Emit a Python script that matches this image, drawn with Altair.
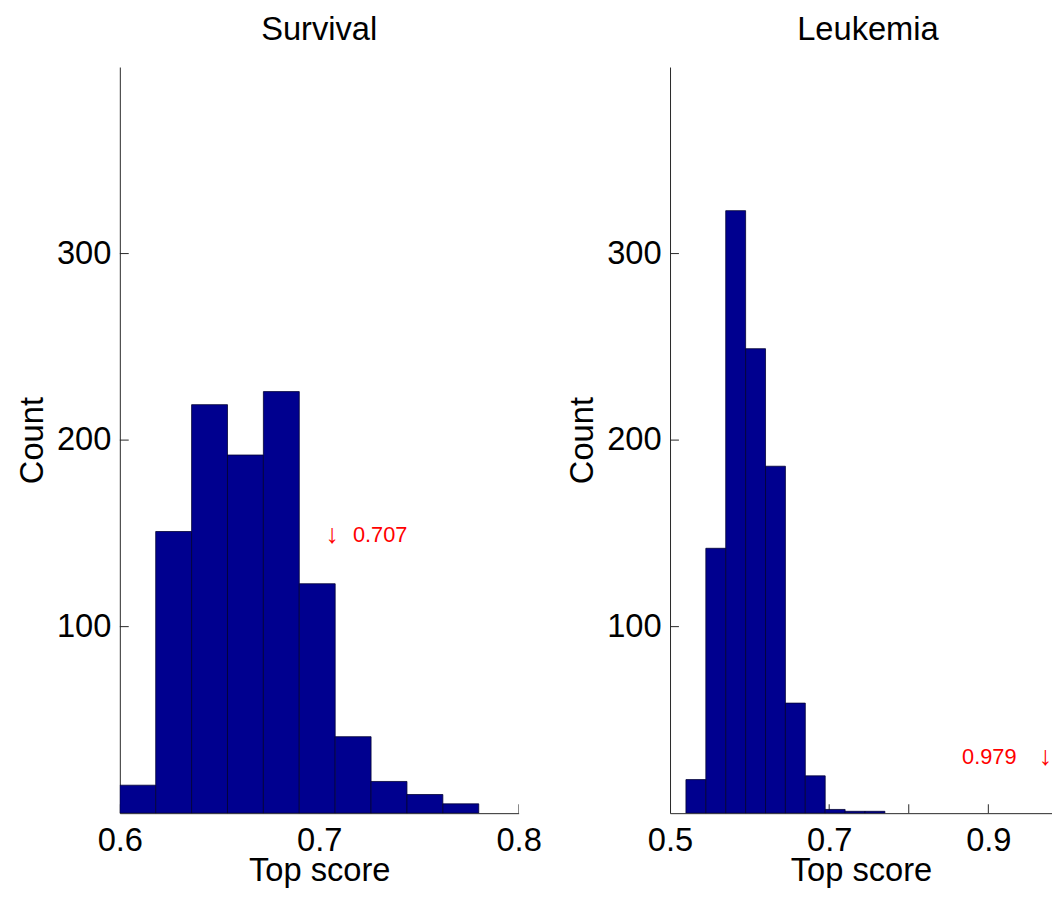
import altair as alt
import pandas as pd

FONT = "Liberation Sans"

# ---- data ----
surv_bin_start = [0.600, 0.618, 0.636, 0.654, 0.672, 0.690, 0.708, 0.726, 0.744, 0.762]
surv_bin_end = [0.618, 0.636, 0.654, 0.672, 0.690, 0.708, 0.726, 0.744, 0.762, 0.780]
surv_counts = [15, 151, 219, 192, 226, 123, 41, 17, 10, 5]

leuk_bin_start = [0.520, 0.545, 0.570, 0.595, 0.620, 0.645, 0.670, 0.695, 0.720, 0.745]
leuk_bin_end = [0.545, 0.570, 0.595, 0.620, 0.645, 0.670, 0.695, 0.720, 0.745, 0.770]
leuk_counts = [18, 142, 323, 249, 186, 59, 20, 2, 1, 1]

surv_score = [0.707]
surv_score_y = [149]
surv_score_text = ["0.707"]
leuk_score = [0.979]
leuk_score_y = [30]
leuk_score_text = ["0.979"]

y_tick_values = [100, 200, 300]
surv_x_labels = [0.6, 0.7, 0.8]
surv_x_ticks = [0.6, 0.7, 0.8]
leuk_x_labels = [0.5, 0.7, 0.9]
leuk_x_ticks = [0.5, 0.6, 0.7, 0.8, 0.9]

H = 754
BAR_FILL = "#00008f"
AXIS_COLOR = "#262626"


def panel(title, starts, ends, counts, domain, width, xlabels, xticks,
          score, score_y, score_text, label_side, title_dx):
    x_scale = alt.Scale(domain=domain, nice=False, zero=False)
    y_scale = alt.Scale(domain=[0, 400], nice=False, zero=True)
    x_axis = alt.Axis(values=xlabels, format=".1f", title="Top score")
    y_axis = alt.Axis(values=y_tick_values, format="d", title="Count")

    bars_df = pd.DataFrame({"start": starts, "end": ends, "count": counts})
    ytick_df = pd.DataFrame({"v": y_tick_values})
    xtick_df = pd.DataFrame({"v": xticks})
    ann_df = pd.DataFrame({"x": score, "y": score_y, "label": score_text})

    yticks = alt.Chart(ytick_df).mark_rule(color=AXIS_COLOR, strokeWidth=1).encode(
        y=alt.Y("v:Q", scale=y_scale, axis=y_axis),
        x=alt.value(0), x2=alt.value(9),
    )
    xticks_l = alt.Chart(xtick_df).mark_rule(color=AXIS_COLOR, strokeWidth=1, clip=True).encode(
        x=alt.X("v:Q", scale=x_scale, axis=x_axis),
        y=alt.value(H), y2=alt.value(H - 9),
    )
    bars = alt.Chart(bars_df).mark_rect(
        fill=BAR_FILL, stroke="#000033", strokeWidth=0.8, clip=True
    ).encode(
        x=alt.X("start:Q", scale=x_scale, axis=x_axis),
        x2="end:Q",
        y=alt.Y("count:Q", scale=y_scale, axis=y_axis),
        y2=alt.datum(0),
    )
    if label_side == "right":
        arrow_mark = dict(align="center", dx=-1)
        lab_mark = dict(align="left", dx=20)
    else:
        arrow_mark = dict(align="right", dx=1)
        lab_mark = dict(align="right", dx=-35)
    arrow = alt.Chart(ann_df).mark_text(
        text="↓", color="#ff0000", fontSize=27, font=FONT,
        baseline="middle", clip=True, **arrow_mark
    ).encode(x=alt.X("x:Q", scale=x_scale, axis=x_axis),
             y=alt.Y("y:Q", scale=y_scale, axis=y_axis))
    label = alt.Chart(ann_df).mark_text(
        color="#ff0000", fontSize=22, font=FONT, baseline="middle", clip=True, **lab_mark
    ).encode(x=alt.X("x:Q", scale=x_scale, axis=x_axis),
             y=alt.Y("y:Q", scale=y_scale, axis=y_axis),
             text="label:N")

    return alt.layer(yticks, xticks_l, bars, arrow, label).properties(
        width=width, height=H,
        title=alt.TitleParams(title, dx=title_dx),
    )


left = panel("Survival", surv_bin_start, surv_bin_end, surv_counts,
             [0.6, 0.8], 403, surv_x_labels, surv_x_ticks,
             surv_score, surv_score_y, surv_score_text, "right", 0)
right = panel("Leukemia", leuk_bin_start, leuk_bin_end, leuk_counts,
              [0.5, 0.98], 386, leuk_x_labels, leuk_x_ticks,
              leuk_score, leuk_score_y, leuk_score_text, "left", 7)

chart = alt.hconcat(left, right, spacing=25).configure(
    font=FONT,
    padding={"left": 8, "top": 1, "right": 0, "bottom": 0},
).configure_view(stroke=None).configure_axis(
    labelFont=FONT, labelFontSize=33, labelColor="black",
    titleFont=FONT, titleFontSize=33, titleFontWeight="normal", titleColor="black",
    domainColor=AXIS_COLOR, domainWidth=1, ticks=False, grid=False,
    labelFlush=False, labelOverlap=False,
).configure_axisX(labelPadding=12, titlePadding=-3).configure_axisY(
    labelPadding=9, titlePadding=7
).configure_title(
    font=FONT, fontSize=33, fontWeight="normal", color="black",
    baseline="alphabetic", offset=20.5, anchor="middle", frame="group",
)

chart.save("out.html", embed_options={"renderer": "svg", "actions": False})
